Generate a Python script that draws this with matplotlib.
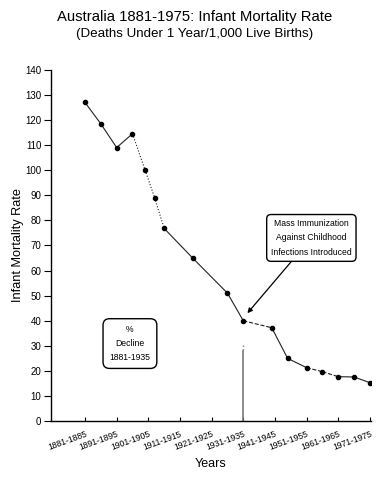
import matplotlib
matplotlib.use('Agg')
import matplotlib.pyplot as plt
import numpy as np

plt.rcParams['font.family'] = ['Liberation Sans', 'DejaVu Sans']

# midpoint year of each period and infant deaths per 1,000 live births
years = [1883, 1888, 1893, 1898, 1902, 1905, 1908, 1917, 1928, 1933,
         1942, 1947, 1953, 1958, 1963, 1968, 1973]
rate = [127, 118.5, 109, 114.5, 100, 89, 76.8, 65, 51, 40,
        37.2, 25, 21.3, 19.7, 17.7, 17.6, 15.3]

tick_years = [1883, 1893, 1903, 1913, 1923, 1933, 1943, 1953, 1963, 1973]
tick_labels = ['1881-1885', '1891-1895', '1901-1905', '1911-1915', '1921-1925',
               '1931-1935', '1941-1945', '1951-1955', '1961-1965', '1971-1975']

# line style of each segment between consecutive points
seg_styles = ['-', '-', '-', ':', ':', ':', '-', '-', '-', '--',
              '-', '-', '--', '--', '-', '-']

fig = plt.figure(figsize=(3.9, 4.78), dpi=100)
ax = fig.add_axes([0.131, 0.119, 0.82, 0.735])

for i, ls in enumerate(seg_styles):
    ax.plot(years[i:i + 2], rate[i:i + 2], color='#222222', lw=0.8, ls=ls)
ax.plot(years, rate, 'o', color='black', ms=3)

# vertical marker at 1931-1935
ax.plot([1933, 1933], [0, 28], color='#777777', lw=1.2)
ax.plot([1933, 1933], [28.5, 31], color='#777777', lw=1.0, ls=':')

ax.set_xlim(1872.3, 1973.3)
ax.set_ylim(0, 140)
ax.set_yticks(np.arange(0, 141, 10))
ax.set_xticks(tick_years)
ax.set_xticklabels(tick_labels, rotation=20, ha='right', rotation_mode='anchor')
ax.tick_params(axis='x', direction='in', length=3, labelsize=6.2, pad=6)
ax.tick_params(axis='y', direction='out', length=5, labelsize=7, pad=2)
for s in ['top', 'right']:
    ax.spines[s].set_visible(False)
ax.spines['left'].set_linewidth(1.0)
ax.spines['bottom'].set_linewidth(1.0)

ax.set_ylabel('Infant Mortality Rate', fontsize=9.2, labelpad=1)
ax.set_xlabel('Years', fontsize=9, labelpad=4)

fig.text(0.5, 0.965, 'Australia 1881-1975: Infant Mortality Rate',
         ha='center', va='center', fontsize=10.7)
fig.text(0.5, 0.928, '(Deaths Under 1 Year/1,000 Live Births)',
         ha='center', va='center', fontsize=9.6)

ax.annotate('Mass Immunization\nAgainst Childhood\nInfections Introduced',
            xy=(1934.3, 43), xytext=(1954.5, 73),
            ha='center', va='center', fontsize=6.2, linespacing=1.8,
            bbox=dict(boxstyle='round,pad=0.5', fc='white', ec='black', lw=1),
            arrowprops=dict(arrowstyle='-|>', color='black', lw=0.9,
                            mutation_scale=7, shrinkA=0, shrinkB=0))

ax.text(1897.2, 30.9, '%\nDecline\n1881-1935', ha='center', va='center',
        fontsize=6.2, linespacing=1.7,
        bbox=dict(boxstyle='round,pad=0.75', fc='white', ec='black', lw=1))

fig.savefig('out.png', dpi=100)
